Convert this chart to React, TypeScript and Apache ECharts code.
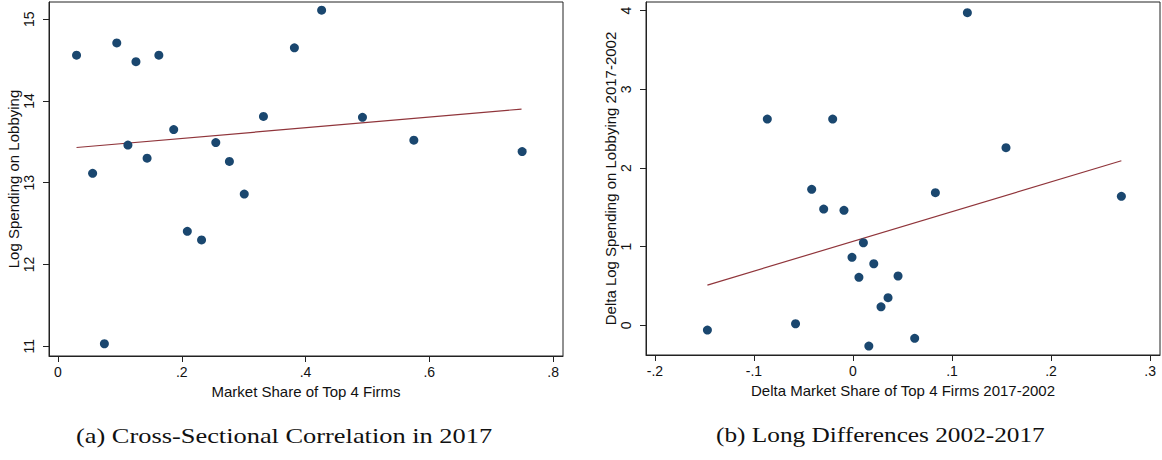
import React, { useEffect, useRef } from "react";
import * as echarts from "echarts";

// Panel (a): Cross-sectional correlation in 2017
const shareA: number[] = [0.030, 0.056, 0.075, 0.095, 0.113, 0.126, 0.144, 0.163, 0.187, 0.209, 0.232, 0.255, 0.277, 0.301, 0.332, 0.382, 0.426, 0.492, 0.575, 0.750];
const lobbyA: number[] = [14.56, 13.115, 11.03, 14.71, 13.46, 14.48, 13.30, 14.56, 13.65, 12.405, 12.30, 13.49, 13.26, 12.86, 13.81, 14.65, 15.11, 13.80, 13.52, 13.38];
const fitA: [number, number][] = [[0.030, 13.43], [0.749, 13.90]];
const xTicksA: number[] = [0, 0.2, 0.4, 0.6, 0.8];
const yTicksA: number[] = [11, 12, 13, 14, 15];

// Panel (b): Long differences 2002-2017
const shareB: number[] = [-0.147, -0.0865, -0.058, -0.0417, -0.0296, -0.0205, -0.0091, -0.001, 0.006, 0.0105, 0.016, 0.021, 0.0283, 0.0354, 0.0455, 0.0623, 0.0832, 0.1155, 0.1545, 0.271];
const lobbyB: number[] = [-0.06, 2.622, 0.02, 1.729, 1.478, 2.622, 1.462, 0.864, 0.61, 1.05, -0.263, 0.783, 0.236, 0.351, 0.627, -0.165, 1.686, 3.974, 2.258, 1.64];
const fitB: [number, number][] = [[-0.147, 0.512], [0.271, 2.092]];
const xTicksB: number[] = [-0.2, -0.1, 0, 0.1, 0.2, 0.3];
const yTicksB: number[] = [0, 1, 2, 3, 4];

const titles = {
  xA: "Market Share of Top 4 Firms",
  yA: "Log Spending on Lobbying",
  xB: "Delta Market Share of Top 4 Firms 2017-2002",
  yB: "Delta Log Spending on Lobbying 2017-2002",
  capA: "(a) Cross-Sectional Correlation in 2017",
  capB: "(b) Long Differences 2002-2017",
};

const FONT = "Liberation Sans, Arial, sans-serif";
const DOT = "#1a476f";
const FIT = "#90353b";
const AX = "#222";

const fmt = (v: number) => {
  const r = Math.round(v * 10) / 10;
  if (r === 0) return "0";
  if (Number.isInteger(r)) return String(r);
  return String(r).replace("0.", ".");
};

function xAxis(gridIndex: number, min: number, max: number, ticks: number[], name: string) {
  return {
    type: "value",
    gridIndex,
    min,
    max,
    name,
    nameLocation: "middle",
    nameGap: 24,
    nameTextStyle: { fontFamily: FONT, fontSize: 15, color: "#111" },
    splitLine: { show: false },
    axisLine: { show: true, onZero: false, lineStyle: { color: AX, width: 1 } },
    axisTick: { show: true, length: 6, customValues: ticks, lineStyle: { color: AX } },
    axisLabel: { show: true, customValues: ticks, formatter: fmt, margin: 9, fontFamily: FONT, fontSize: 14, color: "#111" },
  };
}

function yAxis(gridIndex: number, min: number, max: number, ticks: number[], name: string) {
  return {
    type: "value",
    gridIndex,
    min,
    max,
    name,
    nameLocation: "middle",
    nameRotate: 90,
    nameGap: 27,
    nameTextStyle: { fontFamily: FONT, fontSize: 15, color: "#111" },
    splitLine: { show: false },
    axisLine: { show: true, onZero: false, lineStyle: { color: AX, width: 1 } },
    axisTick: { show: true, length: 6, customValues: ticks, lineStyle: { color: AX } },
    axisLabel: { show: true, customValues: ticks, formatter: fmt, rotate: 90, margin: 13, fontFamily: FONT, fontSize: 14, color: "#111" },
  };
}

export default function App() {
  const ref = useRef<HTMLDivElement>(null);
  useEffect(() => {
    if (!ref.current) return;
    const chart = echarts.init(ref.current, undefined, { renderer: "svg" });
    chart.setOption({
      animation: false,
      backgroundColor: "#fff",
      grid: [
        { left: 49, top: 2, width: 514, height: 354, show: true, borderColor: AX, borderWidth: 1, backgroundColor: "#fff" },
        { left: 646, top: 2, width: 514, height: 353, show: true, borderColor: AX, borderWidth: 1, backgroundColor: "#fff" },
      ],
      xAxis: [
        xAxis(0, -0.0145, 0.816, xTicksA, titles.xA),
        xAxis(1, -0.209, 0.31, xTicksB, titles.xB),
      ],
      yAxis: [
        yAxis(0, 10.88, 15.21, yTicksA, titles.yA),
        yAxis(1, -0.377, 4.11, yTicksB, titles.yB),
      ],
      series: [
        {
          type: "scatter", xAxisIndex: 0, yAxisIndex: 0, symbolSize: 9,
          itemStyle: { color: DOT, opacity: 1 },
          data: shareA.map((x, i) => [x, lobbyA[i]]),
        },
        {
          type: "line", xAxisIndex: 0, yAxisIndex: 0, showSymbol: false, symbol: "none",
          lineStyle: { color: FIT, width: 1.2 }, data: fitA, z: 1,
        },
        {
          type: "scatter", xAxisIndex: 1, yAxisIndex: 1, symbolSize: 9,
          itemStyle: { color: DOT, opacity: 1 },
          data: shareB.map((x, i) => [x, lobbyB[i]]),
        },
        {
          type: "line", xAxisIndex: 1, yAxisIndex: 1, showSymbol: false, symbol: "none",
          lineStyle: { color: FIT, width: 1.2 }, data: fitB, z: 1,
        },
      ],
      graphic: [
        {
          type: "text", x: 76, y: 424, scaleX: 1.2,
          style: { text: titles.capA, font: "22px 'Liberation Serif', serif", fill: "#111" },
        },
        {
          type: "text", x: 716, y: 424, scaleX: 1.15,
          style: { text: titles.capB, font: "22px 'Liberation Serif', serif", fill: "#111" },
        },
      ],
    });
    return () => chart.dispose();
  }, []);
  return <div ref={ref} style={{ position: "absolute", left: 0, top: 0, width: 1162, height: 460 }} />;
}
